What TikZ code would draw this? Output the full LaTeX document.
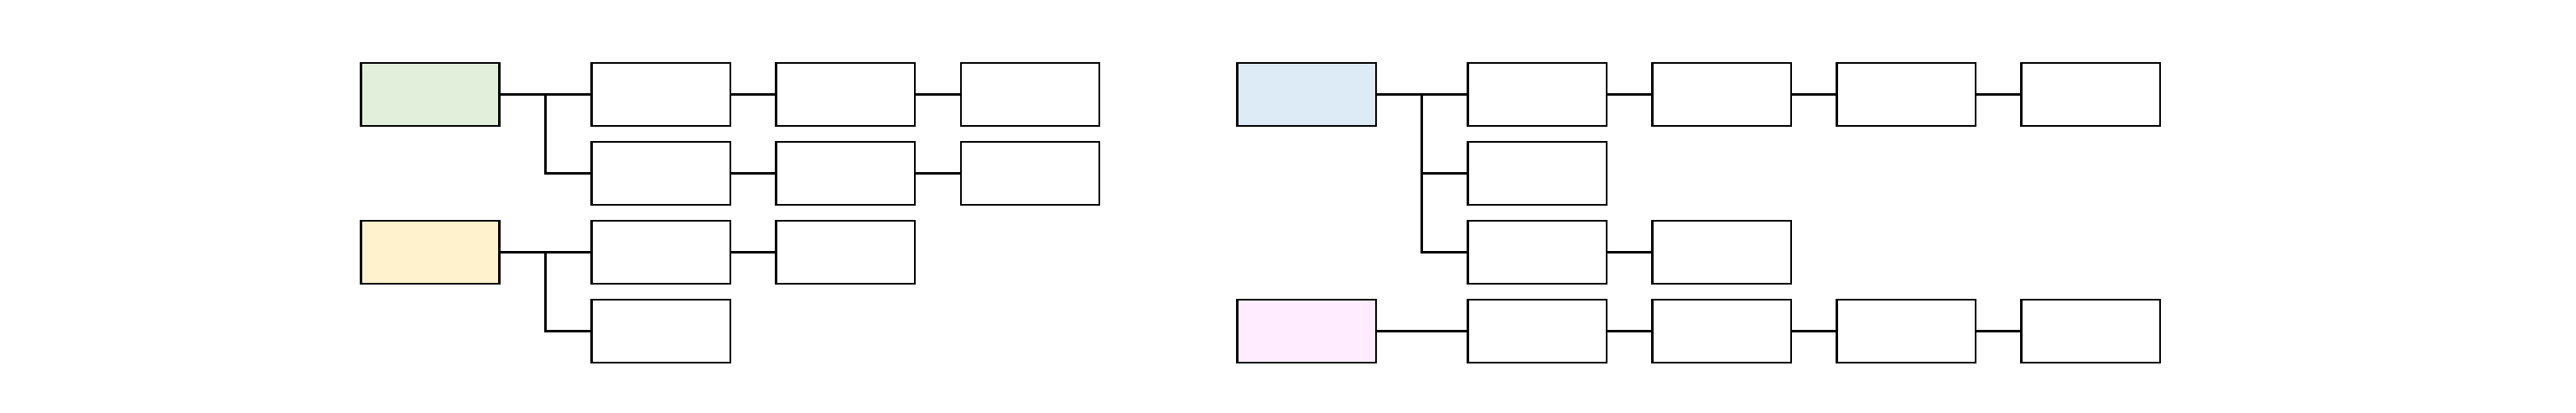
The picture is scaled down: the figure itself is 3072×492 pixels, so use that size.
\documentclass[tikz,border=0pt]{standalone}
\usetikzlibrary{calc}
\definecolor{cgreen}{HTML}{E2EFDA}
\definecolor{cyellow}{HTML}{FFF2CC}
\definecolor{cblue}{HTML}{DDEBF7}
\definecolor{cpink}{HTML}{FFEDFF}
\tikzset{
  box/.style={draw=black, line width=0.6pt, fill=white, minimum width=1.65cm, minimum height=0.75cm, inner sep=0pt, outer sep=0pt},
  link/.style={draw=black, line width=0.75pt}
}
\begin{document}
\begin{tikzpicture}[x=0.01cm,y=-0.01cm]
\useasboundingbox (0,0) rectangle (3072,492);
% left group
\node[box, fill=cgreen] (LR1) at (513,112.5) {};
\node[box] (L11) at (788,112.5) {};
\node[box] (L12) at (1008,112.5) {};
\node[box] (L13) at (1228.5,112.5) {};
\node[box] (L21) at (788,206.5) {};
\node[box] (L22) at (1008,206.5) {};
\node[box] (L23) at (1228.5,206.5) {};
\node[box, fill=cyellow] (LR2) at (513,300.5) {};
\node[box] (L31) at (788,300.5) {};
\node[box] (L32) at (1008,300.5) {};
\node[box] (L41) at (788,394.5) {};
% right group
\node[box, fill=cblue] (RR1) at (1558,112.5) {};
\node[box] (R11) at (1833,112.5) {};
\node[box] (R12) at (2053,112.5) {};
\node[box] (R13) at (2273,112.5) {};
\node[box] (R14) at (2493,112.5) {};
\node[box] (R21) at (1833,206.5) {};
\node[box] (R31) at (1833,300.5) {};
\node[box] (R32) at (2053,300.5) {};
\node[box, fill=cpink] (RR4) at (1558,394.5) {};
\node[box] (R41) at (1833,394.5) {};
\node[box] (R42) at (2053,394.5) {};
\node[box] (R43) at (2273,394.5) {};
\node[box] (R44) at (2493,394.5) {};
% branch points
\coordinate (bL1) at ($(LR1.east)!0.5!(L11.west)$);
\coordinate (bL2) at ($(LR2.east)!0.5!(L31.west)$);
\coordinate (bR1) at ($(RR1.east)!0.5!(R11.west)$);
% connectors left
\draw[link] (LR1.east) -- (L11.west);
\draw[link] (bL1) |- (L21.west);
\draw[link] (L11.east) -- (L12.west);
\draw[link] (L12.east) -- (L13.west);
\draw[link] (L21.east) -- (L22.west);
\draw[link] (L22.east) -- (L23.west);
\draw[link] (LR2.east) -- (L31.west);
\draw[link] (bL2) |- (L41.west);
\draw[link] (L31.east) -- (L32.west);
% connectors right
\draw[link] (RR1.east) -- (R11.west);
\draw[link] (bR1) |- (R21.west);
\draw[link] (bR1) |- (R31.west);
\draw[link] (R11.east) -- (R12.west);
\draw[link] (R12.east) -- (R13.west);
\draw[link] (R13.east) -- (R14.west);
\draw[link] (R31.east) -- (R32.west);
\draw[link] (RR4.east) -- (R41.west);
\draw[link] (R41.east) -- (R42.west);
\draw[link] (R42.east) -- (R43.west);
\draw[link] (R43.east) -- (R44.west);
\end{tikzpicture}
\end{document}
